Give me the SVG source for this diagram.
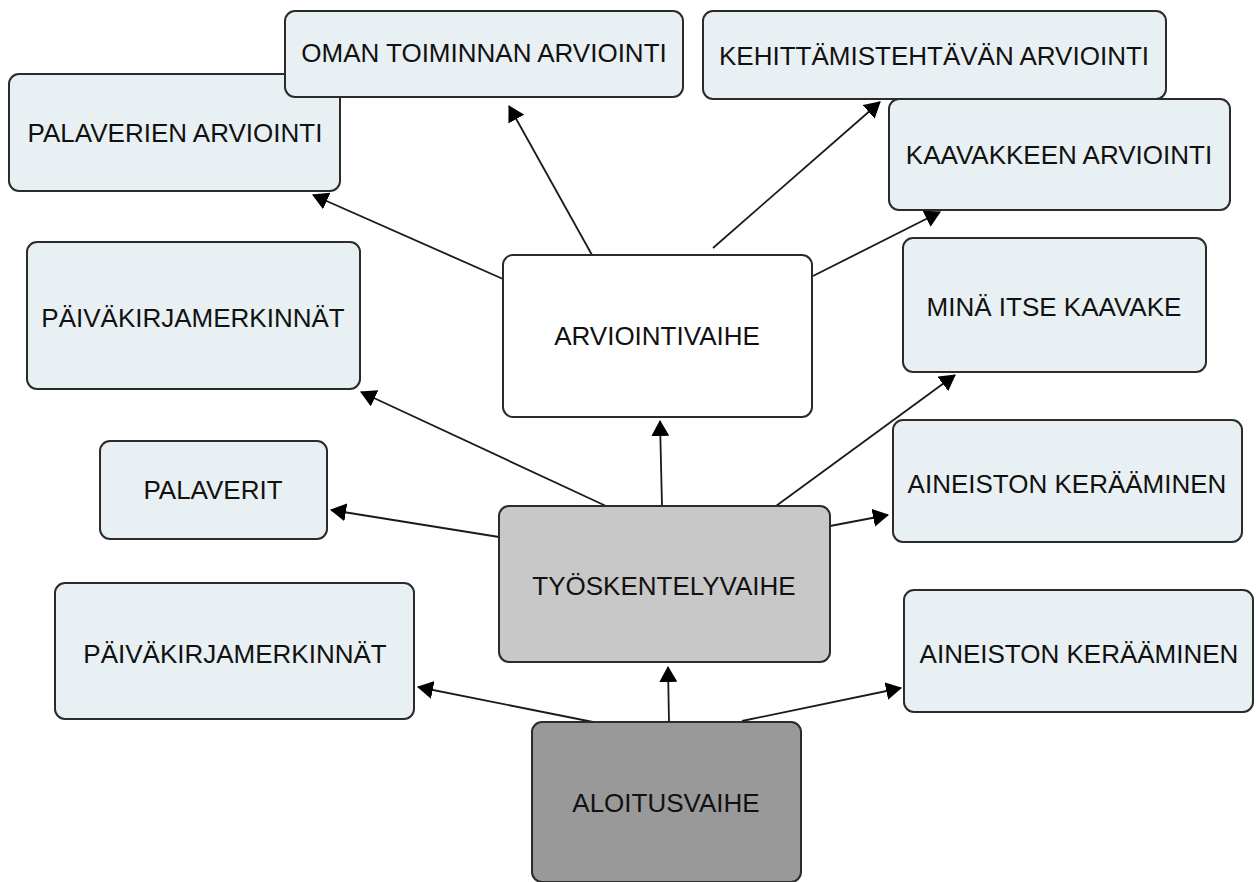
<svg xmlns="http://www.w3.org/2000/svg" width="1260" height="882" viewBox="0 0 1260 882">
<style>
.n{fill:#e9f0f3;stroke:#2b2b2b;stroke-width:2}
.w{fill:#ffffff;stroke:#2b2b2b;stroke-width:2}
.g1{fill:#c8c8c8;stroke:#2b2b2b;stroke-width:2}
.g2{fill:#999999;stroke:#2b2b2b;stroke-width:2}
text{font-family:"Liberation Sans",Arial,sans-serif;font-size:26px;fill:#111;text-anchor:middle}
.c line{stroke:#1a1a1a;stroke-width:1.8;marker-end:url(#ah)}
.c line.p{marker-end:none}
</style>
<defs>
<marker id="ah" markerUnits="userSpaceOnUse" markerWidth="16" markerHeight="18" refX="15" refY="9" orient="auto">
<path d="M0,0 L16,9 L0,18 Z" fill="#000"/>
</marker>
</defs>
<rect width="1260" height="882" fill="#fff"/>
<g class="c" id="connectors">
<line x1="503" y1="279" x2="313" y2="195"/>
<line x1="592" y1="255" x2="509" y2="106"/>
<line x1="713" y1="248" x2="880" y2="102"/>
<line x1="813" y1="276" x2="940" y2="212"/>
<line x1="662" y1="506" x2="660" y2="421"/>
<line x1="606" y1="506" x2="361" y2="392"/>
<line x1="499" y1="537" x2="331" y2="510"/>
<line x1="776" y1="506" x2="955" y2="375"/>
<line x1="830" y1="526" x2="888" y2="515"/>
<line x1="669" y1="722" x2="668" y2="667"/>
<line x1="593" y1="722" x2="418" y2="687"/>
<line x1="742" y1="721" x2="901" y2="688"/>
</g>
<g id="palaverien-arviointi"><rect class="n" x="9" y="74" width="331" height="117" rx="10"/><text x="175" y="142">PALAVERIEN ARVIOINTI</text></g>
<g id="oman-toiminnan-arviointi"><rect class="n" x="285" y="11" width="398" height="86" rx="10"/><text x="484" y="62">OMAN TOIMINNAN ARVIOINTI</text></g>
<g id="kehittamistehtavan-arviointi"><rect class="n" x="703" y="11" width="463" height="88" rx="10"/><text x="934" y="65">KEHITTÄMISTEHTÄVÄN ARVIOINTI</text></g>
<g id="kaavakkeen-arviointi"><rect class="n" x="889" y="99" width="341" height="111" rx="10"/><text x="1059" y="164">KAAVAKKEEN ARVIOINTI</text></g>
<g id="paivakirja-1"><rect class="n" x="27" y="242" width="333" height="147" rx="10"/><text x="193" y="327">PÄIVÄKIRJAMERKINNÄT</text></g>
<g id="arviointivaihe"><rect class="w" x="503" y="255" width="309" height="162" rx="10"/><text x="657" y="345">ARVIOINTIVAIHE</text></g>
<g id="mina-itse-kaavake"><rect class="n" x="903" y="238" width="303" height="134" rx="10"/><text x="1054" y="316">MINÄ ITSE KAAVAKE</text></g>
<g id="palaverit"><rect class="n" x="100" y="441" width="227" height="98" rx="10"/><text x="213" y="499">PALAVERIT</text></g>
<g id="aineisto-1"><rect class="n" x="893" y="420" width="349" height="122" rx="10"/><text x="1067" y="493">AINEISTON KERÄÄMINEN</text></g>
<g id="tyoskentelyvaihe"><rect class="g1" x="499" y="506" width="331" height="156" rx="10"/><text x="664" y="595">TYÖSKENTELYVAIHE</text></g>
<g id="paivakirja-2"><rect class="n" x="55" y="583" width="359" height="136" rx="10"/><text x="235" y="663">PÄIVÄKIRJAMERKINNÄT</text></g>
<g id="aineisto-2"><rect class="n" x="904" y="590" width="349" height="122" rx="10"/><text x="1079" y="663">AINEISTON KERÄÄMINEN</text></g>
<g id="aloitusvaihe"><rect class="g2" x="532" y="722" width="269" height="160" rx="10"/><text x="666" y="812">ALOITUSVAIHE</text></g>
</svg>
